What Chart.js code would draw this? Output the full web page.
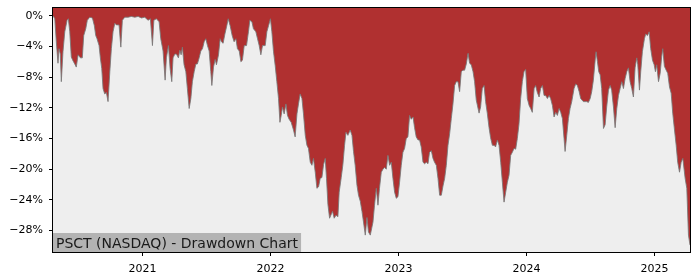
<!DOCTYPE html>
<html>
<head>
<meta charset="utf-8">
<script src="https://cdn.jsdelivr.net/npm/chart.js@4/dist/chart.umd.min.js"></script>
<style>
  html, body { margin: 0; padding: 0; background: #fff; }
  #wrap { width: 700px; height: 280px; }
</style>
</head>
<body>
<div id="wrap"><canvas id="ddChart" width="700" height="280"></canvas></div>
<script>
const chartTitle = "PSCT (NASDAQ) - Drawdown Chart";
const yearTicks = [2021, 2022, 2023, 2024, 2025];
const pctTicks = [0, -4, -8, -12, -16, -20, -24, -28];

// dates as decimal years, drawdown in %
const dates = [
  2020.300, 2020.314, 2020.326, 2020.339, 2020.347, 2020.357, 2020.365, 2020.378, 2020.392, 2020.410,
  2020.420, 2020.431, 2020.443, 2020.457, 2020.470, 2020.482, 2020.496, 2020.514, 2020.529, 2020.540,
  2020.556, 2020.568, 2020.587, 2020.608, 2020.623, 2020.634, 2020.644, 2020.660, 2020.670, 2020.681,
  2020.691, 2020.704, 2020.717, 2020.730, 2020.744, 2020.756, 2020.769, 2020.783, 2020.795, 2020.816,
  2020.830, 2020.842, 2020.861, 2020.887, 2020.912, 2020.939, 2020.965, 2020.991, 2021.017, 2021.043,
  2021.061, 2021.077, 2021.088, 2021.108, 2021.129,
  2021.142, 2021.160, 2021.176, 2021.186, 2021.202, 2021.215, 2021.228, 2021.238, 2021.252, 2021.264,
  2021.280, 2021.291, 2021.301, 2021.311, 2021.324, 2021.338, 2021.350, 2021.364, 2021.377, 2021.389,
  2021.403, 2021.416, 2021.428, 2021.442, 2021.455, 2021.468, 2021.481, 2021.494, 2021.507, 2021.520,
  2021.533, 2021.541, 2021.554, 2021.567, 2021.577, 2021.593, 2021.606, 2021.616, 2021.629, 2021.643,
  2021.658, 2021.669, 2021.684, 2021.700, 2021.715, 2021.729, 2021.741, 2021.755, 2021.768, 2021.780,
  2021.794, 2021.812, 2021.827, 2021.838, 2021.854, 2021.866, 2021.885, 2021.898, 2021.911, 2021.924,
  2021.937, 2021.958,
  2021.971, 2021.984, 2021.999, 2022.010, 2022.023, 2022.036, 2022.049, 2022.062, 2022.073, 2022.083,
  2022.093, 2022.106, 2022.120, 2022.132, 2022.145, 2022.161, 2022.179, 2022.192, 2022.206, 2022.218,
  2022.231, 2022.245, 2022.257, 2022.271, 2022.284, 2022.296, 2022.310, 2022.323, 2022.335, 2022.349,
  2022.362, 2022.375, 2022.388, 2022.401, 2022.414, 2022.427, 2022.437, 2022.448, 2022.461, 2022.471,
  2022.484, 2022.497, 2022.511, 2022.526, 2022.536, 2022.552, 2022.565, 2022.578, 2022.589, 2022.604,
  2022.622, 2022.636, 2022.648, 2022.661, 2022.675, 2022.687, 2022.701, 2022.714, 2022.726, 2022.740,
  2022.753, 2022.765, 2022.779,
  2022.800, 2022.812, 2022.826, 2022.839, 2022.851, 2022.865, 2022.878, 2022.891, 2022.904, 2022.917,
  2022.930, 2022.943, 2022.956, 2022.969, 2022.982, 2022.995, 2023.008, 2023.021, 2023.034, 2023.047,
  2023.060, 2023.073, 2023.086, 2023.099, 2023.113, 2023.125, 2023.138, 2023.152, 2023.164, 2023.177,
  2023.191, 2023.203, 2023.217, 2023.230, 2023.242, 2023.256, 2023.269, 2023.281, 2023.295, 2023.308,
  2023.321, 2023.334, 2023.347, 2023.360, 2023.373, 2023.386, 2023.399, 2023.412, 2023.425, 2023.438,
  2023.451, 2023.464, 2023.477, 2023.490, 2023.503, 2023.516, 2023.529, 2023.543, 2023.555, 2023.568,
  2023.582, 2023.594, 2023.607,
  2023.629, 2023.641, 2023.654, 2023.668, 2023.680, 2023.693, 2023.707, 2023.719, 2023.733, 2023.746,
  2023.758, 2023.772, 2023.785, 2023.798, 2023.811, 2023.824, 2023.837, 2023.850, 2023.863, 2023.876,
  2023.889, 2023.902, 2023.915, 2023.928, 2023.941, 2023.954, 2023.967, 2023.980, 2023.993, 2024.006,
  2024.020, 2024.032, 2024.045, 2024.059, 2024.071, 2024.084, 2024.098, 2024.110, 2024.124, 2024.137,
  2024.149, 2024.163, 2024.176, 2024.188, 2024.202, 2024.215, 2024.228, 2024.241, 2024.254, 2024.267,
  2024.280, 2024.293, 2024.301, 2024.314, 2024.327, 2024.340, 2024.353, 2024.371, 2024.384, 2024.397,
  2024.411, 2024.423, 2024.444,
  2024.457, 2024.470, 2024.483, 2024.497, 2024.509, 2024.522, 2024.536, 2024.543, 2024.554, 2024.564,
  2024.575, 2024.587, 2024.601, 2024.614, 2024.626, 2024.640, 2024.653, 2024.665, 2024.679, 2024.692,
  2024.705, 2024.718, 2024.731, 2024.744, 2024.757, 2024.770, 2024.783, 2024.796, 2024.809, 2024.822,
  2024.835, 2024.848, 2024.861, 2024.869, 2024.882, 2024.892, 2024.905, 2024.921, 2024.931, 2024.945,
  2024.958, 2024.970, 2024.984, 2024.997, 2025.007, 2025.017, 2025.031, 2025.044, 2025.056, 2025.064,
  2025.077, 2025.091, 2025.103, 2025.117, 2025.130, 2025.142, 2025.156, 2025.169, 2025.181, 2025.195,
  2025.208, 2025.221, 2025.239, 2025.252, 2025.265, 2025.277
];

const drawdown = [
  0, -0.4, -3.4, -6.2, -4.3, -5.0, -8.6, -4.7, -2.1, -0.6,
  -0.4, -2.1, -5.4, -5.9, -6.3, -6.7, -5.1, -5.5, -5.5, -2.6,
  -1.7, -0.6, -0.2, -0.3, -1.3, -2.6, -3.0, -3.9, -5.5, -6.9,
  -9.5, -10.2, -10.0, -11.2, -7.3, -4.3, -2.1, -1.0, -1.2, -1.2,
  -4.1, -0.6, -0.2, -0.2, -0.1, -0.2, -0.1, -0.3, -0.2, -0.6,
  -0.4, -3.9, -0.6, -0.4, -0.8,
  -3.0, -4.6, -8.4, -5.5, -3.9, -6.9, -8.6, -5.5, -5.0, -5.0,
  -5.5, -4.5, -5.1, -4.1, -6.4, -7.3, -9.5, -12.1, -10.8, -8.6,
  -7.3, -6.3, -6.3, -5.5, -4.6, -4.3, -3.4, -3.0, -3.9, -4.6,
  -7.3, -9.1, -6.7, -5.7, -6.4, -5.1, -3.0, -3.4, -3.6, -2.4,
  -1.3, -0.4, -1.3, -2.6, -3.4, -3.0, -4.3, -4.6, -6.0, -5.8,
  -3.9, -3.9, -2.1, -0.6, -0.8, -1.7, -2.1, -3.0, -3.9, -5.1,
  -3.9, -3.9,
  -2.1, -1.3, -0.4, -2.1, -4.7, -6.5, -8.6, -10.8, -13.9, -13.0,
  -11.9, -12.8, -11.5, -13.0, -13.5, -13.9, -14.9, -15.8, -12.8, -11.5,
  -10.2, -10.8, -12.8, -15.6, -16.9, -17.3, -19.1, -19.5, -18.6, -20.4,
  -22.5, -22.3, -21.2, -21.1, -19.4, -18.6, -21.2, -24.6, -26.4, -26.0,
  -25.5, -26.4, -26.0, -26.2, -23.0, -21.1, -19.4, -16.9, -15.2, -15.6,
  -14.9, -15.6, -17.7, -19.5, -22.1, -23.4, -24.2, -25.5, -26.9, -28.6,
  -26.3, -28.2, -28.6,
  -26.9, -24.7, -22.5, -24.7, -22.5, -20.4, -20.0, -19.8, -20.0, -18.2,
  -19.5, -19.1, -21.2, -23.0, -23.8, -23.6, -21.7, -19.5, -17.8, -17.3,
  -16.0, -15.8, -13.0, -13.5, -13.2, -14.6, -15.8, -16.2, -16.2, -17.1,
  -19.1, -19.3, -19.1, -19.3, -17.8, -17.6, -18.6, -19.1, -19.5, -21.2,
  -23.4, -23.4, -22.2, -21.2, -19.5, -16.9, -15.4, -13.4, -11.5, -9.1,
  -8.6, -8.6, -9.9, -7.3, -7.1, -7.1, -6.3, -4.9, -6.2, -6.4,
  -7.3, -8.6, -11.0,
  -12.7, -11.9, -9.5, -9.1, -11.2, -12.7, -14.6, -15.9, -16.9, -16.9,
  -17.1, -16.2, -16.9, -19.1, -21.7, -24.3, -23.0, -21.7, -20.8, -18.2,
  -17.8, -17.3, -17.4, -16.0, -14.1, -10.8, -8.6, -7.3, -7.0, -10.8,
  -11.7, -12.1, -12.6, -9.5, -9.1, -10.0, -10.6, -9.5, -9.1, -10.4,
  -10.4, -10.8, -10.4, -10.8, -11.7, -13.2, -12.6, -13.0, -12.1, -12.6,
  -13.4, -16.0, -17.7, -15.6, -13.4, -12.1, -11.2, -9.5, -8.9, -9.1,
  -9.9, -10.8, -11.2,
  -11.2, -11.2, -11.3, -10.8, -9.9, -8.4, -5.8, -4.7, -6.0, -7.3,
  -7.7, -9.5, -14.7, -14.2, -11.9, -9.7, -9.1, -9.7, -11.9, -14.6,
  -12.1, -10.4, -9.5, -8.6, -9.5, -8.2, -7.3, -6.8, -8.6, -9.5,
  -10.6, -6.8, -5.5, -6.4, -9.7, -7.3, -4.7, -3.0, -2.4, -2.6,
  -2.1, -4.3, -5.8, -6.4, -7.3, -6.4, -8.6, -7.5, -5.3, -4.3,
  -6.6, -7.1, -7.5, -9.3, -10.1, -12.7, -14.9, -16.9, -19.1, -20.4,
  -19.1, -18.6, -21.2, -22.5, -28.6, -29.9
];

Chart.defaults.font.family = "'DejaVu Sans', sans-serif";
Chart.defaults.color = "#000";

const points = dates.map((d, i) => ({ x: d, y: drawdown[i] }));

function fmtPct(v) {
  if (v === 0) return "0%";
  return (v < 0 ? "\u2212" : "") + Math.abs(v) + "%";
}

// plot background + spines + title box
const frame = {
  id: "frame",
  beforeDatasetsDraw(chart) {
    const { ctx, chartArea: a } = chart;
    ctx.save();
    ctx.fillStyle = "#eeeeee";
    ctx.fillRect(a.left, a.top, a.right - a.left, a.bottom - a.top);
    ctx.restore();
  },
  afterDatasetsDraw(chart) {
    const { ctx, chartArea: a } = chart;
    const l = Math.round(a.left), t = Math.round(a.top);
    const r = Math.round(a.right), b = Math.round(a.bottom);
    ctx.save();
    ctx.font = "14px 'DejaVu Sans'";
    const w = ctx.measureText(chartTitle).width;
    ctx.fillStyle = "#b3b3b3";
    ctx.fillRect(l, b - 19, w + 6, 19);
    ctx.fillStyle = "#1a1a1a";
    ctx.textBaseline = "alphabetic";
    ctx.fillText(chartTitle, l + 3, b - 4);
    ctx.strokeStyle = "#000";
    ctx.lineWidth = 1;
    ctx.strokeRect(l - 0.5, t - 0.5, r - l + 1, b - t + 1);
    ctx.restore();
  },
};

new Chart(document.getElementById("ddChart"), {
  type: "line",
  data: {
    datasets: [
      {
        data: points,
        fill: "end",
        backgroundColor: "#b03030",
        borderColor: "rgba(120,120,120,0.85)",
        borderWidth: 1,
        pointRadius: 0,
        tension: 0,
      },
    ],
  },
  options: {
    responsive: false,
    animation: false,
    layout: { padding: { top: 8, right: 10, left: 0, bottom: 0 } },
    plugins: {
      legend: { display: false },
      tooltip: { enabled: false },
    },
    scales: {
      x: {
        type: "linear",
        min: 2020.3,
        max: 2025.277,
        afterBuildTicks: (scale) => {
          scale.ticks = yearTicks.map((v) => ({ value: v }));
        },
        afterFit: (scale) => {
          scale.height = 28;
          scale.paddingLeft = 0;
          scale.paddingRight = 0;
        },
        ticks: {
          font: { size: 11 },
          color: "#000",
          padding: 7,
          maxRotation: 0,
          callback: (v) => String(v),
        },
        grid: { display: true, drawOnChartArea: false, drawTicks: true, tickLength: 4, color: "#000" },
        border: { display: false },
      },
      y: {
        min: -30.8,
        max: 1.0,
        afterBuildTicks: (scale) => {
          scale.ticks = pctTicks.map((v) => ({ value: v }));
        },
        afterFit: (scale) => {
          scale.width = 53;
          scale.paddingTop = 0;
          scale.paddingBottom = 0;
        },
        ticks: {
          font: { size: 11 },
          color: "#000",
          padding: 6,
          callback: (v) => fmtPct(v),
        },
        grid: { display: true, drawOnChartArea: false, drawTicks: true, tickLength: 4, color: "#000" },
        border: { display: false },
      },
    },
  },
  plugins: [frame],
});
</script>
</body>
</html>
